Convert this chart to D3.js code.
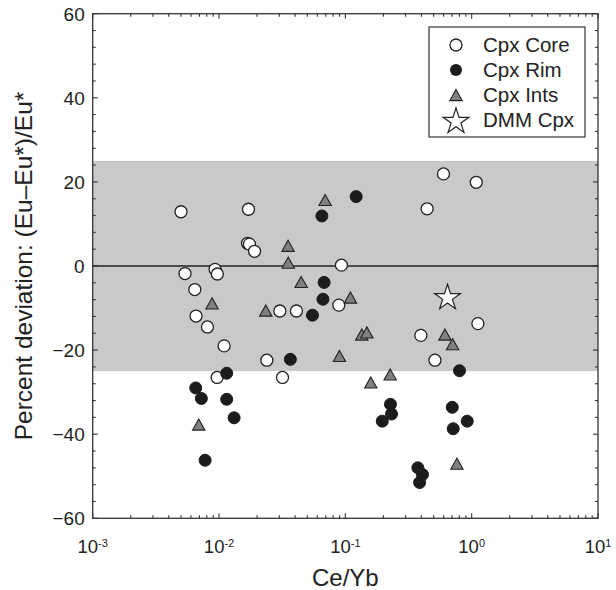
<!DOCTYPE html>
<html>
<head>
<meta charset="utf-8">
<script src="https://cdn.jsdelivr.net/npm/d3@7"></script>
<style>
  body { margin: 0; background: #fff; }
  text { font-family: "Liberation Sans", Arial, sans-serif; fill: #222; }
</style>
</head>
<body>
<svg></svg>
<script>
// Cpx Core (open circles)
const coreRatio = [0.0050, 0.0171, 0.0168, 0.0174, 0.0191, 0.0931, 0.00538, 0.0093, 0.0097, 0.00643,
    0.0888, 0.00658, 0.0081, 0.0303, 0.0410, 0.01097, 0.598, 1.087, 0.444, 1.12,
    0.396, 0.0239, 0.00966, 0.0318, 0.512];
const coreDev = [12.9, 13.5, 5.4, 5.2, 3.5, 0.2, -1.8, -0.8, -1.9, -5.6,
    -9.3, -11.9, -14.5, -10.7, -10.7, -19.0, 21.9, 19.9, 13.6, -13.7,
    -16.5, -22.4, -26.5, -26.5, -22.4];

// Cpx Rim (filled circles)
const rimRatio = [0.1218, 0.0652, 0.0679, 0.0665, 0.0549, 0.0367, 0.0115, 0.00654, 0.00725, 0.0115,
    0.01316, 0.00776, 0.801, 0.2276, 0.232, 0.196, 0.702, 0.922, 0.714, 0.375,
    0.408, 0.387];
const rimDev = [16.5, 11.9, -3.9, -7.9, -11.7, -22.2, -25.5, -29.0, -31.5, -31.7,
    -36.1, -46.2, -24.9, -32.9, -35.2, -36.9, -33.6, -36.9, -38.7, -48.0,
    -49.6, -51.5];

// Cpx Ints (grey triangles)
const intsRatio = [0.0692, 0.0352, 0.0353, 0.0447, 0.00881, 0.1097, 0.02345, 0.135, 0.148, 0.614,
    0.706, 0.0898, 0.00691, 0.2264, 0.159, 0.764];
const intsDev = [15.7, 4.8, 0.8, -3.8, -8.9, -7.5, -10.6, -16.3, -15.8, -16.3,
    -18.6, -21.4, -37.7, -25.8, -27.7, -47.0];

// DMM Cpx (star)
const dmmRatio = [0.644];
const dmmDev = [-7.2];

const xTickExp = [-3, -2, -1, 0, 1];
const yTicks = [-60, -40, -20, 0, 20, 40, 60];
const bandLimits = [-25, 25];

const legendItems = ['Cpx Core', 'Cpx Rim', 'Cpx Ints', 'DMM Cpx'];

// canvas
const margin = { top: 13.7, right: 18, bottom: 71.7, left: 92.7 };
const width = 616 - margin.left - margin.right;
const height = 590 - margin.top - margin.bottom;

const svg = d3.select('svg').attr('width', 616).attr('height', 590);
const g = svg.append('g').attr('transform', `translate(${margin.left}, ${margin.top})`);

const x = d3.scaleLog().domain([1e-3, 1e1]).range([0, width]);
const y = d3.scaleLinear().domain([-60, 60]).range([height, 0]);

// grey band
g.append('rect')
    .attr('x', 0).attr('width', width)
    .attr('y', y(bandLimits[1]))
    .attr('height', y(bandLimits[0]) - y(bandLimits[1]))
    .attr('fill', '#c8c9cb');

// zero line
g.append('line')
    .attr('x1', 0).attr('x2', width)
    .attr('y1', y(0)).attr('y2', y(0))
    .attr('stroke', '#222').attr('stroke-width', 1.4);

const zip = (a, b) => a.map((v, i) => [v, b[i]]);
const triPath = (s) => `M0,${-s * 0.9}L${s},${s * 0.9}L${-s},${s * 0.9}Z`;
const star = d3.symbol(d3.symbolStar, 205);

const pts = g.append('g');

pts.selectAll('.core').data(zip(coreRatio, coreDev)).enter().append('circle')
    .attr('class', 'core')
    .attr('cx', d => x(d[0])).attr('cy', d => y(d[1])).attr('r', 6)
    .attr('fill', '#fff').attr('stroke', '#222').attr('stroke-width', 1.3);

pts.selectAll('.rim').data(zip(rimRatio, rimDev)).enter().append('circle')
    .attr('class', 'rim')
    .attr('cx', d => x(d[0])).attr('cy', d => y(d[1])).attr('r', 6)
    .attr('fill', '#1c1c1c').attr('stroke', '#1c1c1c').attr('stroke-width', 1);

pts.selectAll('.ints').data(zip(intsRatio, intsDev)).enter().append('path')
    .attr('class', 'ints')
    .attr('d', triPath(6.2))
    .attr('transform', d => `translate(${x(d[0])}, ${y(d[1])})`)
    .attr('fill', '#808080').attr('stroke', '#222').attr('stroke-width', 1.1)
    .attr('stroke-linejoin', 'miter');

pts.selectAll('.dmm').data(zip(dmmRatio, dmmDev)).enter().append('path')
    .attr('class', 'dmm')
    .attr('d', star)
    .attr('transform', d => `translate(${x(d[0])}, ${y(d[1]) + 1.5})`)
    .attr('fill', '#fff').attr('stroke', '#222').attr('stroke-width', 1.2);

// axes: inward ticks on all four sides
const axisColor = '#333';
const frame = g.append('g');
frame.append('rect')
    .attr('width', width).attr('height', height)
    .attr('fill', 'none').attr('stroke', axisColor).attr('stroke-width', 1.3);

const xMinor = [];
for (let e = -3; e < 1; e++) {
    for (let k = 2; k <= 9; k++) xMinor.push(k * Math.pow(10, e));
}
const yMinor = d3.range(-60, 61, 4).filter(v => v % 20 !== 0);

const tick = (x1, y1, x2, y2) => frame.append('line')
    .attr('x1', x1).attr('y1', y1).attr('x2', x2).attr('y2', y2)
    .attr('stroke', axisColor).attr('stroke-width', 1.1);

xTickExp.forEach(e => {
    const px = x(Math.pow(10, e));
    tick(px, height, px, height - 5);
    tick(px, 0, px, 5);
});
xMinor.forEach(v => {
    const px = x(v);
    tick(px, height, px, height - 3);
    tick(px, 0, px, 3);
});
yTicks.forEach(v => {
    tick(0, y(v), 5, y(v));
    tick(width, y(v), width - 5, y(v));
});
yMinor.forEach(v => {
    tick(0, y(v), 3, y(v));
    tick(width, y(v), width - 3, y(v));
});

// tick labels
g.selectAll('.ylab').data(yTicks).enter().append('text')
    .attr('class', 'ylab')
    .attr('x', -8).attr('y', d => y(d))
    .attr('dy', '0.36em')
    .attr('text-anchor', 'end')
    .style('font-size', '19px')
    .text(d => d < 0 ? '\u2212' + Math.abs(d) : d);

const xl = g.selectAll('.xlab').data(xTickExp).enter().append('text')
    .attr('class', 'xlab')
    .attr('x', d => x(Math.pow(10, d)))
    .attr('y', height + 35)
    .attr('text-anchor', 'middle')
    .style('font-size', '18.5px');
xl.append('tspan').text('10');
xl.append('tspan')
    .attr('dy', '-0.55em')
    .style('font-size', '11px')
    .text(d => d < 0 ? '-' + Math.abs(d) : d);

// axis titles
g.append('text')
    .attr('x', width / 2).attr('y', height + 68)
    .attr('text-anchor', 'middle')
    .style('font-size', '24px')
    .text('Ce/Yb');

g.append('text')
    .attr('transform', `translate(${-61}, ${height / 2}) rotate(-90)`)
    .attr('text-anchor', 'middle')
    .style('font-size', '24.5px')
    .text('Percent deviation: (Eu\u2013Eu*)/Eu*');

// legend
const legend = g.append('g')
    .attr('transform', `translate(${429 - margin.left}, ${27 - margin.top})`);
legend.append('rect')
    .attr('width', 156).attr('height', 110)
    .attr('fill', '#fff').attr('stroke', '#222').attr('stroke-width', 1.1);

const rows = legend.selectAll('.row').data(legendItems).enter().append('g')
    .attr('class', 'row')
    .attr('transform', (d, i) => `translate(27, ${18 + i * 25})`);

rows.append('text')
    .attr('x', 27).attr('dy', '0.36em')
    .style('font-size', '20.5px')
    .text(d => d);

rows.each(function (d, i) {
    const r = d3.select(this);
    if (i === 0) {
        r.append('circle').attr('r', 6).attr('fill', '#fff').attr('stroke', '#222').attr('stroke-width', 1.3);
    } else if (i === 1) {
        r.append('circle').attr('r', 6).attr('fill', '#1c1c1c');
    } else if (i === 2) {
        r.append('path').attr('d', triPath(6.2)).attr('fill', '#808080').attr('stroke', '#222').attr('stroke-width', 1.1);
    } else {
        r.append('path').attr('d', star).attr('transform', 'translate(0, 1.5)')
            .attr('fill', '#fff').attr('stroke', '#222').attr('stroke-width', 1.2);
    }
});
</script>
</body>
</html>
